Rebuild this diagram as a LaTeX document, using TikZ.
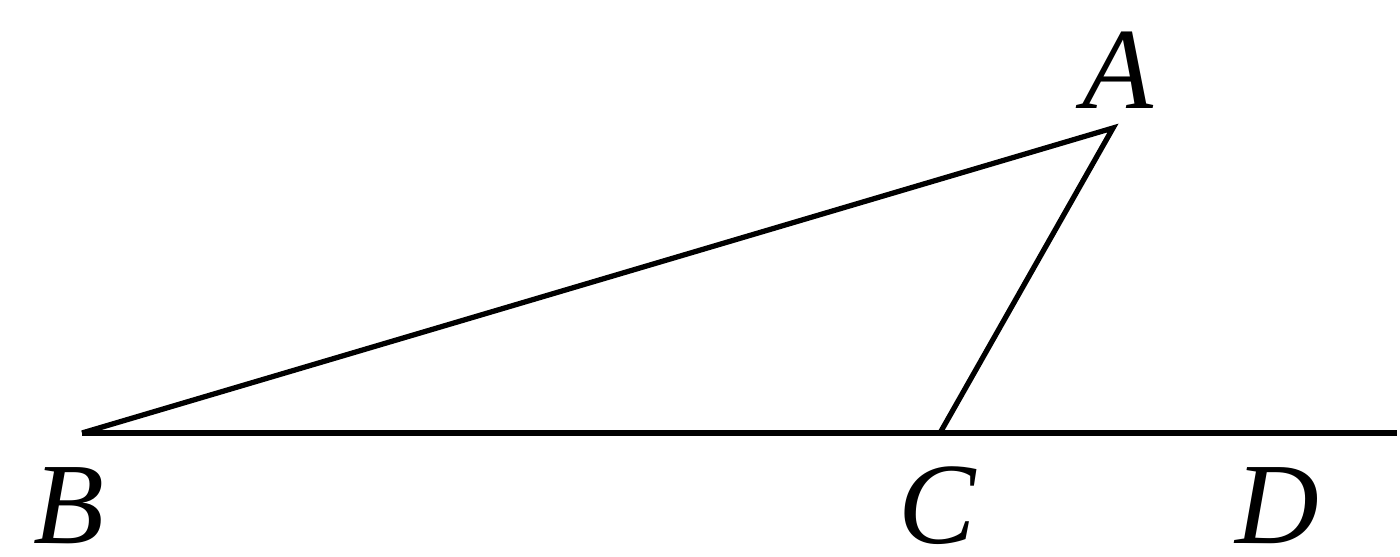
\documentclass[tikz,border=0pt]{standalone}
\usepackage{fontspec}
\setmainfont{Liberation Serif}
\begin{document}
\begin{tikzpicture}[line width=1.5pt, font=\fontsize{33}{40}\selectfont\itshape]
    \useasboundingbox (0,0) rectangle (14,5.56);
    % Points
    \coordinate (A) at (11.13, 4.28);
    \coordinate (B) at (0.82, 1.23);
    \coordinate (C) at (9.40, 1.23);
    \coordinate (E) at (13.97, 1.23);
    % Labels
    \node[inner sep=0pt] (A_label) at (11.18, 4.86) {A};
    \node[inner sep=0pt] (B_label) at (0.69, 0.50) {B};
    \node[inner sep=0pt] (C_label) at (9.37, 0.50) {C};
    \node[inner sep=0pt] (D_label) at (12.77, 0.50) {D};
    % Triangle and extension
    \draw (B) -- (A) -- (C);
    \draw (B) -- (E);
\end{tikzpicture}
\end{document}
